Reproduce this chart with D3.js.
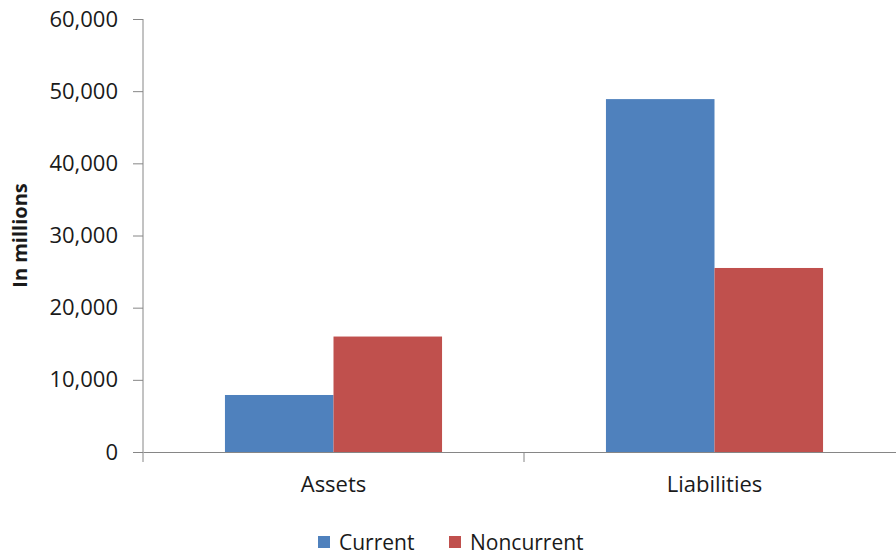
<!DOCTYPE html>
<html>
<head>
<meta charset="utf-8">
<script src="https://cdn.jsdelivr.net/npm/d3@7"></script>
<style>
  body { margin: 0; background: #fff; }
  svg text { font-family: "Open Sans", sans-serif; fill: #1a1a1a; }
</style>
</head>
<body>
<svg id="chart"></svg>
<script>
// chart data
const categories = ["Assets", "Liabilities"];
const seriesNames = ["Current", "Noncurrent"];
const currentValues = [7900, 48900];
const noncurrentValues = [16000, 25500];
const yTicks = [0, 10000, 20000, 30000, 40000, 50000, 60000];
const colors = ["#4F81BD", "#C0504D"];

const width = 896, height = 556;
const svg = d3.select("#chart").attr("width", width).attr("height", height);

const mLeft = 143, mRight = 905, mTop = 19, mBottom = 452;

const x = d3.scaleBand().domain(categories).range([mLeft, mRight]).paddingInner(0).paddingOuter(0);
const y = d3.scaleLinear().domain([0, 60000]).range([mBottom, mTop]);
const xSub = d3.scaleBand().domain(seriesNames).range([0, x.bandwidth()]).paddingInner(0).paddingOuter(0.755);

const rows = categories.map((c, i) => ({ cat: c, vals: [currentValues[i], noncurrentValues[i]] }));

// bars
svg.append("g").selectAll("g")
    .data(rows)
    .join("g")
    .attr("transform", d => `translate(${x(d.cat)},0)`)
    .selectAll("rect")
    .data(d => d.vals.map((v, j) => ({ name: seriesNames[j], v: v, j: j })))
    .join("rect")
    .attr("x", d => xSub(d.name))
    .attr("width", xSub.bandwidth())
    .attr("y", d => y(d.v))
    .attr("height", d => y(0) - y(d.v))
    .attr("fill", d => colors[d.j]);

// y axis
const yAxis = svg.append("g")
    .attr("transform", `translate(${mLeft},0)`)
    .call(d3.axisLeft(y).tickValues(yTicks).tickSize(10).tickPadding(15).tickFormat(d3.format(",")));
yAxis.select(".domain").attr("stroke", "#868686").attr("d", `M-0,${mTop}V${mBottom}`);
yAxis.selectAll(".tick line").attr("stroke", "#868686");
yAxis.selectAll("text").attr("font-size", 22).attr("font-family", "'Open Sans', sans-serif").attr("fill", "#1a1a1a");

// x axis
const xAxis = svg.append("g")
    .attr("transform", `translate(0,${mBottom})`)
    .call(d3.axisBottom(x).tickSize(0).tickPadding(24));
xAxis.select(".domain").attr("stroke", "#868686");
xAxis.selectAll("text").attr("font-size", 22).attr("font-family", "'Open Sans', sans-serif").attr("fill", "#1a1a1a");
xAxis.selectAll(".sep")
    .data(categories)
    .join("line")
    .attr("class", "sep")
    .attr("x1", d => x(d)).attr("x2", d => x(d))
    .attr("y1", 0).attr("y2", 10)
    .attr("stroke", "#868686");

// y title
svg.append("text")
    .attr("transform", `translate(27,${(mTop + mBottom) / 2}) rotate(-90)`)
    .attr("text-anchor", "middle")
    .attr("font-size", 20)
    .attr("font-weight", "bold")
    .text("In millions");

// legend
const legendItems = [{ name: "Current", x: 318 }, { name: "Noncurrent", x: 449 }];
const legend = svg.append("g").selectAll("g")
    .data(legendItems)
    .join("g")
    .attr("transform", d => `translate(${d.x},536)`);
legend.append("rect").attr("width", 12).attr("height", 12).attr("fill", (d, i) => colors[i]);
legend.append("text").attr("x", 21).attr("y", 14).attr("font-size", 21).text(d => d.name);
</script>
</body>
</html>
